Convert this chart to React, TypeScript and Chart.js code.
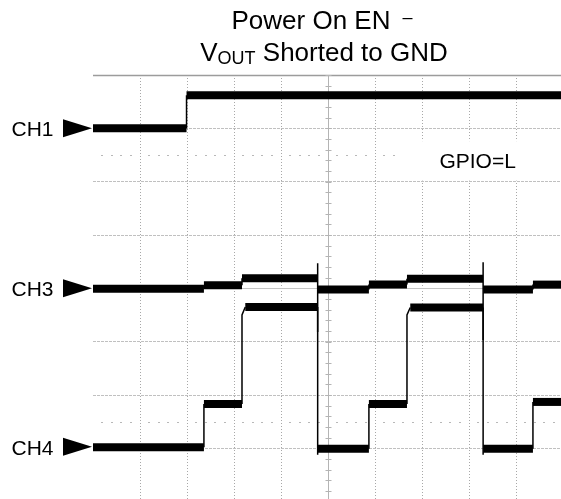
import React, { useEffect, useRef } from "react";
import { Chart, registerables } from "chart.js";
Chart.register(...registerables);

// Axis ranges in oscilloscope divisions
const X_MAX = 9.957;
const Y_MIN = 0.05;
const Y_MAX = 8;

// Channel traces: corners of the step waveforms (x in divisions, y in divisions)
const ch1X = [0, 1.99, 1.99, 10];
const ch1Y = [7.0, 7.0, 7.62, 7.62];

const ch3X = [0, 2.36, 2.36, 3.17, 3.17, 4.78, 4.78, 4.78, 4.78, 5.87, 5.87, 6.68, 6.68, 8.3, 8.3, 8.3, 8.3, 9.36, 9.36, 10];
const ch3Y = [3.99, 3.99, 4.06, 4.06, 4.19, 4.19, 4.47, 3.18, 3.98, 3.98, 4.07, 4.07, 4.18, 4.18, 4.49, 3.03, 3.98, 3.98, 4.07, 4.07];

const ch4X = [0, 2.36, 2.36, 3.17, 3.17, 3.24, 4.78, 4.78, 4.78, 5.87, 5.87, 6.68, 6.68, 6.75, 8.3, 8.3, 8.3, 9.36, 9.36, 10];
const ch4Y = [1.02, 1.02, 1.83, 1.83, 3.5, 3.65, 3.65, 0.88, 0.99, 0.99, 1.83, 1.83, 3.5, 3.64, 3.64, 0.88, 0.99, 0.99, 1.87, 1.87];

// Channel markers (label, reference level in divisions)
const markerLabels = ["CH1", "CH3", "CH4"];
const markerLevels = [7.0, 4.0, 1.03];

const titleLine1 = "Power On EN";
const titleDash = "–";
const titleV = "V";
const titleSub = "OUT";
const titleRest = " Shorted to GND";
const noteText = "GPIO=L";

const FONT = "'Liberation Sans', Arial, sans-serif";

const scopePlugin = {
  id: "scope",
  beforeDatasetsDraw(chart: any) {
    const { ctx, chartArea: a, scales } = chart;
    const x = scales.x, y = scales.y;
    ctx.save();
    const seg = (x1: number, y1: number, x2: number, y2: number) => {
      ctx.beginPath(); ctx.moveTo(x1, y1); ctx.lineTo(x2, y2); ctx.stroke();
    };
    // dotted marker rows
    ctx.fillStyle = "#b8b8b8";
    for (const lvl of [6.5, 1.5]) {
      const py = Math.round(y.getPixelForValue(lvl));
      for (let k = 1; k < 50; k++) {
        if (k % 5 === 0) continue;
        const px = x.getPixelForValue(k / 5);
        if (px > a.right) break;
        ctx.fillRect(Math.round(px) - 1, py, 2, 1);
      }
    }
    // top border
    ctx.strokeStyle = "#9c9c9c";
    ctx.lineWidth = 1.5;
    seg(a.left, a.top + 0.5, a.right, a.top + 0.5);
    // center axes
    ctx.strokeStyle = "#b4b4b4";
    ctx.lineWidth = 1;
    const cx = Math.round(x.getPixelForValue(5)) + 0.5;
    seg(cx, a.top, cx, a.bottom);
    for (let i = 0; i <= 40; i++) {
      const py = Math.round(y.getPixelForValue(Y_MAX - i * 0.2)) + 0.5;
      seg(cx - 3, py, cx + 3, py);
    }
    const cy = Math.round(y.getPixelForValue(4)) + 0.5;
    ctx.strokeStyle = "#c4c4c4";
    seg(a.left, cy, a.right, cy);
    // note box
    const bx = x.getPixelForValue(6.45);
    const by1 = y.getPixelForValue(6.76);
    const by2 = y.getPixelForValue(6.02);
    ctx.fillStyle = "#fff";
    ctx.fillRect(bx, by1, a.right - bx, by2 - by1);
    ctx.fillStyle = "#000";
    ctx.font = `21px ${FONT}`;
    ctx.textAlign = "left";
    ctx.textBaseline = "alphabetic";
    ctx.fillText(noteText, x.getPixelForValue(7.37), y.getPixelForValue(6.41) + 8);
    ctx.restore();
  },
  afterDraw(chart: any) {
    const { ctx, chartArea: a, scales } = chart;
    const y = scales.y;
    ctx.save();
    ctx.fillStyle = "#000";
    // channel markers
    markerLabels.forEach((lab, i) => {
      const py = y.getPixelForValue(markerLevels[i]);
      ctx.beginPath();
      ctx.moveTo(a.left - 1, py);
      ctx.lineTo(a.left - 30, py - 9);
      ctx.lineTo(a.left - 30, py + 9);
      ctx.closePath();
      ctx.fill();
      ctx.font = `21px ${FONT}`;
      ctx.textAlign = "right";
      ctx.textBaseline = "alphabetic";
      ctx.fillText(lab, a.left - 39.5, py + 8);
    });
    // title
    const cxT = 322;
    ctx.textBaseline = "alphabetic";
    ctx.textAlign = "left";
    ctx.font = `26px ${FONT}`;
    const w1 = ctx.measureText(titleLine1).width;
    const gap = 12;
    ctx.font = `18px ${FONT}`;
    const wd = ctx.measureText(titleDash).width;
    const total1 = w1 + gap + wd;
    let sx = cxT - total1 / 2;
    ctx.font = `26px ${FONT}`;
    ctx.fillText(titleLine1, sx, 29);
    ctx.font = `18px ${FONT}`;
    ctx.fillText(titleDash, sx + w1 + gap, 23);
    ctx.font = `26px ${FONT}`;
    const wV = ctx.measureText(titleV).width;
    const wR = ctx.measureText(titleRest).width;
    ctx.font = `18px ${FONT}`;
    const wS = ctx.measureText(titleSub).width;
    sx = cxT + 2 - (wV + wS + wR) / 2;
    ctx.font = `26px ${FONT}`;
    ctx.fillText(titleV, sx, 61);
    ctx.font = `18px ${FONT}`;
    ctx.fillText(titleSub, sx + wV, 64);
    ctx.font = `26px ${FONT}`;
    ctx.fillText(titleRest, sx + wV + wS, 61);
    ctx.restore();
  },
};

export default function App() {
  const ref = useRef<HTMLCanvasElement>(null);
  useEffect(() => {
    const canvas = ref.current!;
    const mk = (xs: number[], ys: number[]) => xs.map((v, i) => ({ x: v, y: ys[i] }));
    const segStyle = {
      borderWidth: (c: any) => (c.p0.parsed.y === c.p1.parsed.y ? 8 : 1.5),
    };
    const ds = (label: string, xs: number[], ys: number[]) => ({
      label,
      data: mk(xs, ys),
      borderColor: "#000",
      backgroundColor: "#000",
      borderWidth: 8,
      pointRadius: 0,
      fill: false,
      tension: 0,
      borderCapStyle: "butt",
      segment: segStyle,
    });
    const chart = new Chart(canvas, {
      type: "line",
      data: {
        datasets: [ds("CH1", ch1X, ch1Y), ds("CH3", ch3X, ch3Y), ds("CH4", ch4X, ch4Y)] as any,
      },
      options: {
        animation: false,
        responsive: false,
        devicePixelRatio: 1,
        layout: { padding: { left: 93, top: 75, right: 0, bottom: 0 } },
        plugins: { legend: { display: false }, tooltip: { enabled: false }, title: { display: false } },
        scales: {
          x: {
            type: "linear",
            min: 0,
            max: X_MAX,
            afterFit: (s: any) => { s.height = 0; },
            ticks: { display: false, stepSize: 1, includeBounds: false },
            grid: {
              drawTicks: false,
              lineWidth: 1,
              color: (c: any) => {
                const v = c.tick && c.tick.value;
                return v === 0 || v === 5 ? "rgba(0,0,0,0)" : "#a8a8a8";
              },
            },
            border: { display: false, dash: [1, 2] },
          },
          y: {
            type: "linear",
            min: Y_MIN,
            max: Y_MAX,
            afterFit: (s: any) => { s.width = 0; },
            ticks: { display: false, stepSize: 1, includeBounds: false },
            grid: {
              drawTicks: false,
              lineWidth: 1,
              color: (c: any) => {
                const v = c.tick && c.tick.value;
                return v === 8 || v === 4 ? "rgba(0,0,0,0)" : "#c0c0c0";
              },
            },
            border: { display: false, dash: [3, 1] },
          },
        },
      } as any,
      plugins: [scopePlugin],
    });
    return () => chart.destroy();
  }, []);
  return (
    <div style={{ position: "fixed", left: 0, top: 0, width: 561, height: 499, background: "#fff", overflow: "hidden" }}>
      <canvas ref={ref} width={561} height={499} style={{ display: "block", width: 561, height: 499 }} />
    </div>
  );
}
